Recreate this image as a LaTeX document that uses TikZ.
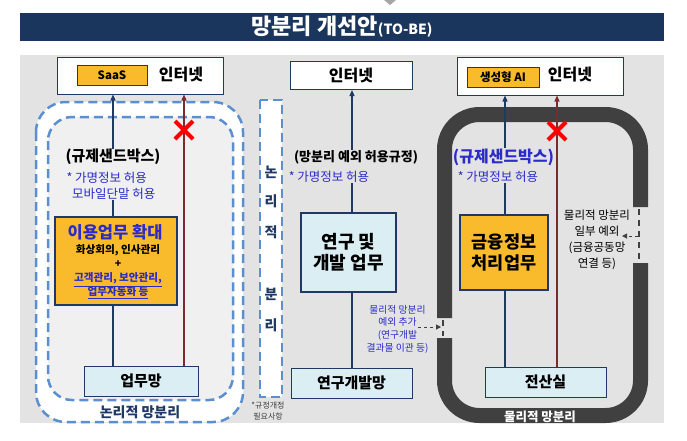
\documentclass[tikz,border=0pt]{standalone}
\usepackage{fontspec}
\setmainfont{Noto Sans CJK KR}
\usetikzlibrary{arrows.meta}

\definecolor{titlebg}{HTML}{1B365D}
\definecolor{panelbg}{HTML}{E3E3E3}
\definecolor{innerbg}{HTML}{F0F0F0}
\definecolor{boxorange}{HTML}{F9BA2C}
\definecolor{boxblue}{HTML}{DAEEF3}
\definecolor{linenavy}{HTML}{1F3864}
\definecolor{linered}{HTML}{7B2B2B}
\definecolor{dashblue}{HTML}{5B8FD0}
\definecolor{textblue}{HTML}{2B2BC8}
\definecolor{framegray}{HTML}{404040}

\newcommand{\fsz}[2]{\fontsize{#1}{#2}\selectfont}

\tikzset{
  inetbox/.style={draw=linenavy, fill=white, line width=1pt, inner sep=0pt},
  tagbox/.style={draw=linenavy, fill=boxorange, line width=0.8pt, inner sep=0pt,
    minimum height=20pt, font=\fsz{11.5}{13}\bfseries},
  workbox/.style={draw=linenavy, fill=boxorange, line width=1.2pt, inner sep=0pt, align=center},
  netbox/.style={draw=linenavy, fill=boxblue, line width=1pt, inner sep=0pt,
    minimum height=30pt, font=\fsz{15}{18}\bfseries},
  rdbox/.style={draw=linenavy, fill=boxblue, line width=1.2pt, inner sep=0pt, align=center},
  inettext/.style={font=\fsz{16}{19}\bfseries, inner sep=0pt},
  ruletext/.style={font=\fsz{15}{18}\bfseries, inner sep=0pt},
  notetext/.style={text=textblue, font=\fsz{12.5}{16}, inner sep=0pt, align=left},
  upline/.style={draw=linenavy, line width=1.2pt, -{Triangle[length=6pt,width=5pt]}},
  plainline/.style={draw=linenavy, line width=1.2pt},
  redline/.style={draw=linered, line width=1.2pt, -{Triangle[length=6pt,width=5pt]}},
  dashzone/.style={draw=dashblue, line width=2.5pt, dash pattern=on 9pt off 5pt},
  frameband/.style={draw=framegray, line width=15pt, rounded corners=35pt},
  gapline/.style={draw=framegray, line width=1.5pt, dash pattern=on 6pt off 5pt},
  gaparrow/.style={draw=framegray, line width=1pt, dash pattern=on 3pt off 3pt,
    -{Triangle[length=5pt,width=5pt]}},
  crossmark/.style={draw=red, line width=4pt},
}

\begin{document}
\begin{tikzpicture}[x=1pt,y=-1pt]
\useasboundingbox (0,0) rectangle (687,440);

% title
\fill[gray!70] (384,0) -- (396,0) -- (390,5) -- cycle;
\node[fill=titlebg, minimum width=644pt, minimum height=28pt, inner sep=0pt, text=white]
  (title) at (342,27) {\fsz{22}{24}\bfseries 망분리 개선안\fsz{14}{16}(TO-BE)};

% panel
\fill[panelbg] (20,55) rectangle (664,423);

% left: logical separation
\draw[dashzone, fill=white, rounded corners=30pt] (36,102) rectangle (243,422);
\draw[dashzone, fill=innerbg, rounded corners=24pt] (48,117) rectangle (233,400);
\node[text=linenavy, font=\fsz{14}{17}\bfseries] (logicA) at (140,412) {논리적 망분리};

\node[inetbox, minimum width=166pt, minimum height=37pt] (inetA) at (140.5,75.5) {};
\node[tagbox, minimum width=70pt] (saas) at (112,75) {SaaS};
\node[inettext] (inetAt) at (181,75) {인터넷};

\node[ruletext] (sandA) at (113,157) {(규제샌드박스)};
\node[notetext] (noteA) at (111,186) {* 가명정보 허용\\ \ \ 모바일단말 허용};
\node[workbox, minimum width=122pt, minimum height=88pt] (useA) at (116,261) {};
\node[text=textblue, font=\fsz{16.5}{19}\bfseries, inner sep=0pt] (useAt) at (115,232) {이용업무 확대};
\node[font=\fsz{10.6}{14}\bfseries, inner sep=0pt, align=center] (useAs) at (118,272)
  {화상회의, 인사관리\\+\\ \textcolor{textblue}{\underline{고객관리, 보안관리,}}\\
   \textcolor{textblue}{\underline{업무자동화 등}}};
\node[netbox, minimum width=114pt] (netA) at (141,381) {업무망};

\coordinate (crossA) at (184,130);
\path[upline] (sandA.north) -- (sandA.north |- inetA.south);
\path[plainline] (noteA.south -| sandA) -- (useA.north -| sandA);
\path[plainline] (useA.south -| sandA) -- (netA.north -| sandA);
\path[redline] (netA.north -| crossA) -- (crossA |- inetA.south);
\draw[crossmark] (175,121) -- (193,139) (175,139) -- (193,121);

% middle: logical separation column
\draw[dashzone, line width=2pt, fill=white] (260,100) rectangle (282,397);
\foreach \ch/\yy in {논/172, 리/201, 적/232, 분/294, 리/325}
  \node[text=linenavy, font=\fsz{14}{16}\bfseries, inner sep=0pt] at (271,\yy) {\ch};
\node[text=black!75, font=\fsz{8}{11}, inner sep=0pt, align=center] (ruleNote) at (268,411)
  {*규정개정\\필요사항};

% middle: research
\node[inetbox, minimum width=122pt, minimum height=28pt] (inetB) at (351,75.5) {};
\node[inettext] (inetBt) at (351,75.5) {인터넷};
\node[font=\fsz{13}{16}\bfseries, inner sep=0pt] (ruleB) at (356,157) {(망분리 예외 허용규정)};
\node[notetext] (noteB) at (329,177) {* 가명정보 허용};
\node[rdbox, minimum width=95pt, minimum height=79pt, font=\fsz{18}{21.5}\bfseries]
  (rdB) at (348.5,252.5) {연구 및\\개발 업무};
\node[netbox, minimum width=121pt] (netB) at (351.5,383) {연구개발망};
\node[text=textblue, font=\fsz{9.8}{12.6}, inner sep=0pt, align=center] (expB) at (397.5,329)
  {물리적 망분리\\예외 추가\\(연구개발\\결과물 이관 등)};

\coordinate (axisB) at (352,130);
\path[upline] (axisB |- ruleB.north) -- (axisB |- inetB.south);
\path[plainline] (axisB |- noteB.south) -- (axisB |- rdB.north);
\path[plainline] (axisB |- rdB.south) -- (axisB |- netB.north);

% right: physical separation
\path[frameband] (640.5,207) -- (640.5,114.5) -- (444.5,114.5) -- (444.5,318);
\path[frameband] (444.5,338) -- (444.5,415.5) -- (640.5,415.5) -- (640.5,263);
\path[gapline] (639,209) -- (639,261);
\path[gapline] (443,320) -- (443,336);
\node[text=white, font=\fsz{12.5}{15}\bfseries, inner sep=0pt] (physC) at (540,416.5) {물리적 망분리};

\node[inetbox, minimum width=166pt, minimum height=38pt] (inetC) at (540,76) {};
\node[tagbox, minimum width=72pt] (genai) at (503,77) {생성형 AI};
\node[inettext] (inetCt) at (570,75) {인터넷};

\node[text=textblue, font=\fsz{16}{19}\bfseries, inner sep=0pt] (sandC) at (503.5,157) {(규제샌드박스)};
\node[notetext] (noteC) at (498,177) {* 가명정보 허용};
\node[workbox, minimum width=88pt, minimum height=75pt, font=\fsz{17.5}{20.5}\bfseries]
  (finC) at (504,252.5) {금융정보\\처리업무};
\node[netbox, minimum width=121pt] (netC) at (545.5,382) {전산실};
\node[font=\fsz{11.5}{16}, inner sep=0pt, align=center] (excC) at (597,240)
  {물리적 망분리\\일부 예외\\(금융공동망\\연결 등)};

\coordinate (axisC) at (505,130);
\coordinate (crossC) at (557,131);
\path[upline] (axisC |- sandC.north) -- (axisC |- inetC.south);
\path[plainline] (axisC |- noteC.south) -- (axisC |- finC.north);
\path[plainline] (axisC |- finC.south) -- (axisC |- netC.north);
\path[redline] (netC.north -| crossC) -- (crossC |- inetC.south);
\draw[crossmark] (548,122) -- (566,140) (548,140) -- (566,122);

% exception arrows
\coordinate (gapBs) at (418,327);
\coordinate (gapBe) at (441,327);
\coordinate (gapCs) at (638,236);
\coordinate (gapCe) at (622,236);
\path[gaparrow] (gapBs) -- (gapBe);
\path[gaparrow] (gapCs) -- (gapCe);

\end{tikzpicture}
\end{document}
